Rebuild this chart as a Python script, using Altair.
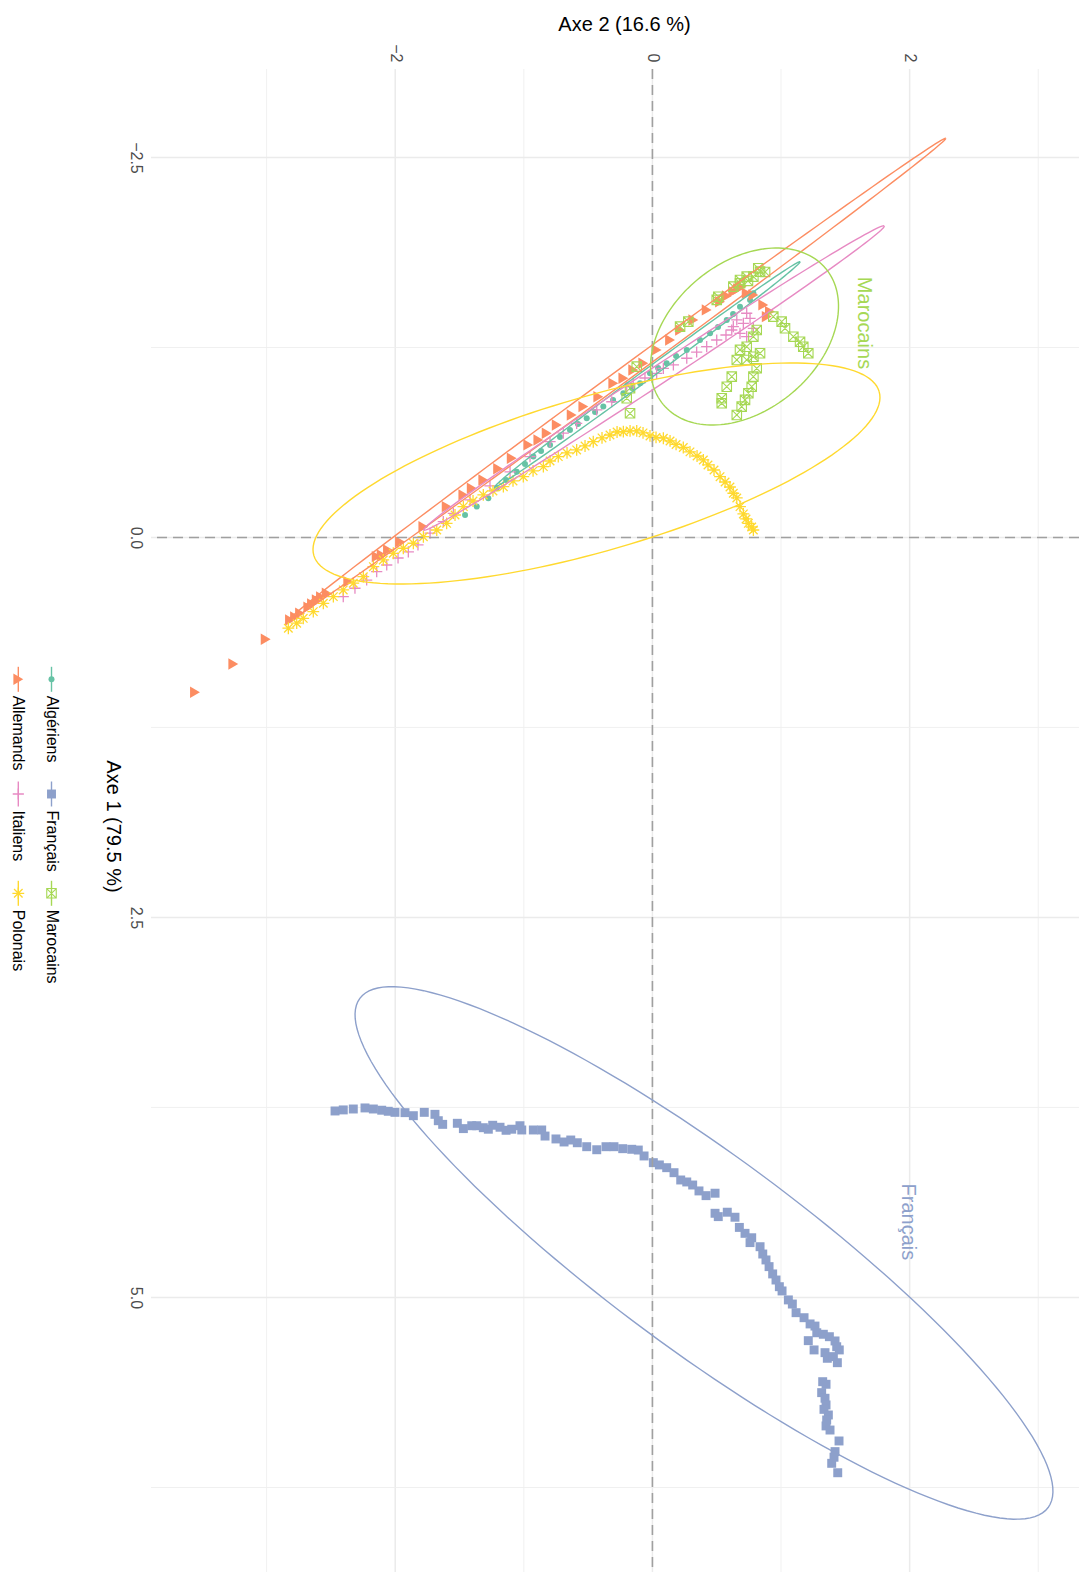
import math
import altair as alt
import pandas as pd

FONT = "Liberation Sans"

GROUPS = ["Algériens", "Allemands", "Français", "Italiens", "Marocains", "Polonais"]
COLORS = ["#66C2A5", "#FC8D62", "#8DA0CB", "#E78AC3", "#A6D854", "#FFD92F"]

# (Axe 2, Axe 1) coordinates
algeriens = [(-1.457, -0.148), (-1.366, -0.203), (-1.276, -0.258), (-1.211, -0.324), (-1.138, -0.378),
             (-1.055, -0.433), (-0.991, -0.484), (-0.926, -0.532), (-0.866, -0.569), (-0.796, -0.609),
             (-0.719, -0.661), (-0.641, -0.707), (-0.579, -0.747), (-0.511, -0.784), (-0.446, -0.826),
             (-0.382, -0.861), (-0.306, -0.905), (-0.226, -0.949), (-0.159, -0.984), (-0.096, -1.014),
             (-0.019, -1.080), (0.044, -1.115), (0.111, -1.146), (0.184, -1.194), (0.267, -1.234),
             (0.370, -1.299), (0.448, -1.343), (0.510, -1.385), (0.578, -1.431), (0.627, -1.470),
             (0.681, -1.518), (0.759, -1.563), (0.785, -1.607)]

allemands = [(-3.557, 1.018), (-3.259, 0.832), (-3.007, 0.670), (-2.818, 0.543), (-2.779, 0.523),
             (-2.740, 0.499), (-2.676, 0.459), (-2.647, 0.438), (-2.610, 0.411), (-2.577, 0.391),
             (-2.533, 0.367), (-2.365, 0.291), (-2.144, 0.126), (-2.105, 0.115), (-2.056, 0.082),
             (-1.963, 0.028), (-1.781, -0.071), (-1.600, -0.203), (-1.470, -0.280), (-1.405, -0.324),
             (-1.315, -0.378), (-1.200, -0.452), (-1.094, -0.521), (-0.965, -0.609), (-0.887, -0.641),
             (-0.822, -0.686), (-0.744, -0.740), (-0.628, -0.806), (-0.537, -0.861), (-0.421, -0.926),
             (-0.304, -1.014), (-0.226, -1.047), (-0.149, -1.102), (-0.071, -1.146), (0.033, -1.234),
             (0.137, -1.299), (0.215, -1.365), (0.318, -1.431), (0.422, -1.497), (0.526, -1.551),
             (0.579, -1.589), (0.629, -1.617), (0.666, -1.635), (0.694, -1.650), (0.733, -1.607),
             (0.785, -1.595), (0.862, -1.530), (0.914, -1.486), (0.889, -1.453)]

francais = [(-2.468, 3.773), (-2.404, 3.766), (-2.326, 3.760), (-2.235, 3.753), (-2.170, 3.760),
            (-2.105, 3.768), (-2.054, 3.775), (-2.002, 3.782), (-1.924, 3.784), (-1.859, 3.804),
            (-1.774, 3.782), (-1.691, 3.795), (-1.665, 3.837), (-1.631, 3.861), (-1.517, 3.854),
            (-1.470, 3.889), (-1.405, 3.870), (-1.366, 3.870), (-1.315, 3.883), (-1.276, 3.893),
            (-1.242, 3.867), (-1.185, 3.880), (-1.138, 3.900), (-1.094, 3.893), (-1.030, 3.870),
            (-1.016, 3.898), (-0.926, 3.898), (-0.861, 3.898), (-0.835, 3.938), (-0.750, 3.957),
            (-0.687, 3.977), (-0.635, 3.964), (-0.584, 3.982), (-0.511, 4.008), (-0.433, 4.028),
            (-0.361, 4.008), (-0.299, 4.008), (-0.231, 4.021), (-0.161, 4.025), (-0.110, 4.030),
            (-0.065, 4.069), (0.007, 4.113), (0.054, 4.128), (0.111, 4.146), (0.168, 4.179),
            (0.220, 4.227), (0.267, 4.240), (0.313, 4.260), (0.362, 4.299), (0.417, 4.330),
            (0.487, 4.314), (0.487, 4.446), (0.512, 4.468), (0.582, 4.439), (0.642, 4.472),
            (0.676, 4.539), (0.720, 4.578), (0.772, 4.607), (0.759, 4.639), (0.837, 4.666),
            (0.858, 4.714), (0.883, 4.753), (0.907, 4.797), (0.935, 4.845), (0.961, 4.885),
            (0.987, 4.929), (1.008, 4.957), (1.057, 5.016), (1.088, 5.043), (1.117, 5.100),
            (1.179, 5.133), (1.226, 5.174), (1.264, 5.188), (1.278, 5.232), (1.329, 5.242),
            (1.376, 5.258), (1.420, 5.286), (1.433, 5.324), (1.453, 5.345), (1.212, 5.284),
            (1.257, 5.345), (1.342, 5.363), (1.360, 5.400), (1.407, 5.389), (1.438, 5.429),
            (1.324, 5.554), (1.350, 5.571), (1.316, 5.626), (1.342, 5.663), (1.350, 5.707),
            (1.334, 5.736), (1.368, 5.773), (1.355, 5.806), (1.350, 5.845), (1.381, 5.872),
            (1.451, 5.944), (1.420, 6.014), (1.412, 6.051), (1.394, 6.091), (1.441, 6.153)]

italiens = [(-2.404, 0.389), (-2.313, 0.334), (-2.222, 0.280), (-2.144, 0.225), (-2.066, 0.181),
            (-1.978, 0.135), (-1.898, 0.095), (-1.823, 0.049), (-1.729, -0.028), (-1.626, -0.104),
            (-1.548, -0.159), (-1.418, -0.247), (-1.263, -0.339), (-1.107, -0.431), (-0.952, -0.532),
            (-0.796, -0.630), (-0.693, -0.686), (-0.589, -0.751), (-0.433, -0.839), (-0.316, -0.893),
            (-0.200, -0.992), (-0.149, -1.014), (-0.058, -1.049), (0.033, -1.080), (0.085, -1.113),
            (0.163, -1.135), (0.267, -1.179), (0.344, -1.220), (0.422, -1.255), (0.500, -1.299),
            (0.617, -1.365), (0.656, -1.431), (0.681, -1.343), (0.707, -1.409), (0.733, -1.321),
            (0.759, -1.442), (0.785, -1.376), (0.733, -1.475), (0.629, -1.387), (0.572, -1.332)]

marocains = [(-0.200, -0.916), (-0.174, -0.817), (-0.174, -0.982), (-0.122, -1.124), (0.215, -1.387),
             (0.279, -1.420), (0.500, -1.563), (0.512, -1.584), (0.629, -1.650), (0.681, -1.672),
             (0.681, -1.694), (0.733, -1.716), (0.785, -1.716), (0.823, -1.771), (0.837, -1.749),
             (0.876, -1.747), (0.743, -1.688), (0.940, -1.453), (1.005, -1.420), (1.031, -1.376),
             (1.096, -1.321), (1.148, -1.288), (1.173, -1.255), (1.212, -1.212), (0.811, -1.365),
             (0.785, -1.321), (0.733, -1.255), (0.681, -1.234), (0.837, -1.212), (0.785, -1.189),
             (0.656, -1.168), (0.733, -1.168), (0.811, -1.113), (0.785, -1.058), (0.772, -0.992),
             (0.746, -0.949), (0.720, -0.905), (0.694, -0.861), (0.656, -0.806), (0.617, -1.058),
             (0.578, -0.992), (0.539, -0.916), (0.539, -0.883)]

polonais = [(-2.831, 0.597), (-2.766, 0.564), (-2.715, 0.532), (-2.637, 0.488), (-2.559, 0.433),
            (-2.481, 0.389), (-2.404, 0.345), (-2.326, 0.301), (-2.248, 0.258), (-2.170, 0.192),
            (-2.093, 0.148), (-2.015, 0.104), (-1.937, 0.071), (-1.859, 0.038), (-1.781, -0.005),
            (-1.677, -0.049), (-1.600, -0.093), (-1.535, -0.148), (-1.470, -0.203), (-1.395, -0.240),
            (-1.315, -0.280), (-1.240, -0.306), (-1.159, -0.334), (-1.084, -0.372), (-1.004, -0.400),
            (-0.928, -0.438), (-0.848, -0.466), (-0.796, -0.503), (-0.732, -0.532), (-0.664, -0.556),
            (-0.589, -0.576), (-0.524, -0.602), (-0.460, -0.630), (-0.392, -0.655), (-0.330, -0.674),
            (-0.275, -0.694), (-0.226, -0.696), (-0.174, -0.701), (-0.122, -0.701), (-0.073, -0.688),
            (-0.019, -0.668), (0.028, -0.658), (0.085, -0.653), (0.137, -0.635), (0.184, -0.612),
            (0.240, -0.592), (0.292, -0.563), (0.347, -0.536), (0.396, -0.510), (0.432, -0.477),
            (0.479, -0.444), (0.526, -0.400), (0.565, -0.365), (0.603, -0.332), (0.629, -0.291),
            (0.656, -0.260), (0.681, -0.203), (0.707, -0.155), (0.728, -0.122), (0.746, -0.093),
            (0.772, -0.069), (0.785, -0.049)]

POINTS = [algeriens, allemands, francais, italiens, marocains, polonais]

# concentration ellipses: centre, first semi-axis vector, second semi-axis vector (data units)
ELL_CENTER = [(-0.038, -1.074), (-0.281, -1.036), (0.401, 4.707), (0.012, -1.049), (0.716, -1.322), (-0.435, -0.421)]
ELL_A = [(1.186, -0.740), (2.562, -1.590), (2.676, 1.675), (1.790, -1.000), (0.631, -0.448), (2.198, -0.539)]
ELL_B = [(0.023, 0.027), (0.032, 0.037), (-0.449, 0.513), (0.039, 0.050), (0.369, 0.372), (0.167, 0.488)]

X_TICKS = [-2, 0, 2]
X_MINOR = [-3, -1, 1, 3]
Y_TICKS = [-2.5, 0.0, 2.5, 5.0]
Y_MINOR = [-1.25, 1.25, 3.75, 6.25]

GROUP_LABELS = ["Marocains", "Français"]
GROUP_LABEL_POS = [(1.645, -1.411), (1.988, 4.503)]
GROUP_LABEL_COLORS = ["#A6D854", "#8DA0CB"]

X_DOMAIN = [-3.899, 3.317]
Y_DOMAIN = [-3.082, 6.806]
W, H = 928, 1503

xs = alt.Scale(domain=X_DOMAIN, nice=False, zero=False)
ys = alt.Scale(domain=Y_DOMAIN, nice=False, zero=False, reverse=True)

x_axis = alt.Axis(orient="top", values=X_TICKS, format=".0f", title="Axe 2 (16.6 %)",
                  grid=False, domain=False, ticks=False, labelAngle=90, labelAlign="right",
                  labelBaseline="middle", labelPadding=7, labelFontSize=16, labelColor="#4D4D4D",
                  labelFont=FONT, labelFlush=False, labelOverlap=False,
                  titleFont=FONT, titleFontSize=20, titleFontWeight="normal", titleColor="#000000",
                  titleX=473, titleY=-45, titleAlign="center", titleBaseline="middle", titleAngle=0)
y_axis = alt.Axis(orient="left", values=Y_TICKS, format=".1f", title="Axe 1 (79.5 %)",
                  grid=False, domain=False, ticks=False, labelAngle=90, labelAlign="center",
                  labelBaseline="top", labelPadding=8, labelFontSize=16, labelColor="#4D4D4D",
                  labelFont=FONT, labelFlush=False, labelOverlap=False,
                  titleFont=FONT, titleFontSize=20, titleFontWeight="normal", titleColor="#000000",
                  titleX=-39, titleY=757, titleAlign="center", titleBaseline="middle", titleAngle=90)


def X(field):
    return alt.X(field, scale=xs, axis=x_axis)


def Y(field):
    return alt.Y(field, scale=ys, axis=y_axis)


layers = []
layers.append(alt.Chart(pd.DataFrame({"v": X_TICKS})).mark_rule(color="#EBEBEB", strokeWidth=1.5)
              .encode(x=X("v:Q")))
layers.append(alt.Chart(pd.DataFrame({"v": X_MINOR})).mark_rule(color="#EEEEEE", strokeWidth=0.9)
              .encode(x=X("v:Q")))
layers.append(alt.Chart(pd.DataFrame({"v": Y_TICKS})).mark_rule(color="#EBEBEB", strokeWidth=1.5)
              .encode(y=Y("v:Q")))
layers.append(alt.Chart(pd.DataFrame({"v": Y_MINOR})).mark_rule(color="#EEEEEE", strokeWidth=0.9)
              .encode(y=Y("v:Q")))

PLUS = "M-1,0H1M0,-1V1"
BOXX = "M-1,-1H1V1H-1ZM-1,-1L1,1M-1,1L1,-1"
STAR = "M-1,0H1M0,-1V1M-0.72,-0.72L0.72,0.72M-0.72,0.72L0.72,-0.72"
MARK_STYLE = [
    dict(shape="circle", filled=True, size=36),
    dict(shape="triangle-right", filled=True, size=130),
    dict(shape="square", filled=True, size=80),
    dict(shape=PLUS, filled=False, size=125, strokeWidth=1.3),
    dict(shape=BOXX, filled=False, size=90, strokeWidth=1.1),
    dict(shape=STAR, filled=False, size=140, strokeWidth=1.3),
]

for g, pts, col, st in zip(GROUPS, POINTS, COLORS, MARK_STYLE):
    df = pd.DataFrame({"x": [p[0] for p in pts], "y": [p[1] for p in pts]})
    layers.append(alt.Chart(df).mark_point(**dict(color=col, opacity=1, **st))
                  .encode(x=X("x:Q"), y=Y("y:Q")))

# dashed zero lines
layers.append(alt.Chart(pd.DataFrame({"v": [0]})).mark_rule(color="#A0A0A0", strokeWidth=1.6, strokeDash=[10, 6])
              .encode(x=X("v:Q")))
layers.append(alt.Chart(pd.DataFrame({"v": [0]})).mark_rule(color="#A0A0A0", strokeWidth=1.6, strokeDash=[10, 6])
              .encode(y=Y("v:Q")))

# ellipses
N = 160
for g, c, a, b, col in zip(GROUPS, ELL_CENTER, ELL_A, ELL_B, COLORS):
    rows = []
    for i in range(N + 1):
        t = 2 * math.pi * i / N
        rows.append({"i": i,
                     "x": c[0] + a[0] * math.cos(t) + b[0] * math.sin(t),
                     "y": c[1] + a[1] * math.cos(t) + b[1] * math.sin(t)})
    layers.append(alt.Chart(pd.DataFrame(rows)).mark_line(color=col, strokeWidth=1.4)
                  .encode(x=X("x:Q"), y=Y("y:Q"), order="i:Q"))

# group labels
for lab, pos, col in zip(GROUP_LABELS, GROUP_LABEL_POS, GROUP_LABEL_COLORS):
    layers.append(alt.Chart(pd.DataFrame({"x": [pos[0]], "y": [pos[1]], "t": [lab]}))
                  .mark_text(angle=90, align="center", baseline="middle", fontSize=20, font=FONT, color=col)
                  .encode(x=X("x:Q"), y=Y("y:Q"), text="t:N"))

# manual legend (rotated like the rest of the figure); pixel layout relative to the plot origin
LEG_COL_X = {"Algériens": -99.5, "Français": -99.5, "Marocains": -99.5,
             "Allemands": -132.7, "Italiens": -132.7, "Polonais": -132.7}
LEG_ROW = {"Algériens": 0, "Allemands": 0, "Français": 1, "Italiens": 1, "Marocains": 2, "Polonais": 2}
ROW_SYM = [610.3, 725.0, 824.3]
one = pd.DataFrame({"a": [0]})
for g, col, st in zip(GROUPS, COLORS, MARK_STYLE):
    kx = LEG_COL_X[g]
    sy = ROW_SYM[LEG_ROW[g]]
    base = alt.Chart(one)
    layers.append(base.mark_rule(color=col, strokeWidth=1.4)
                  .encode(x=alt.value(kx), y=alt.value(sy - 12.5), y2=alt.value(sy + 12.5)))
    layers.append(base.mark_point(**dict(color=col, opacity=1, **st))
                  .encode(x=alt.value(kx), y=alt.value(sy)))
    layers.append(base.mark_text(angle=90, align="left", baseline="middle", fontSize=16, font=FONT,
                                 color="#000000")
                  .encode(x=alt.value(kx), y=alt.value(sy + 16.5), text=alt.value(g)))

chart = alt.layer(*layers).properties(
    width=W, height=H,
    autosize=alt.AutoSizeParams(type="none"),
    padding={"left": 143, "top": 61, "right": 0, "bottom": 0},
    background="white",
).configure_view(stroke=None)

chart.save("out.html", embed_options={"renderer": "svg", "actions": False})
